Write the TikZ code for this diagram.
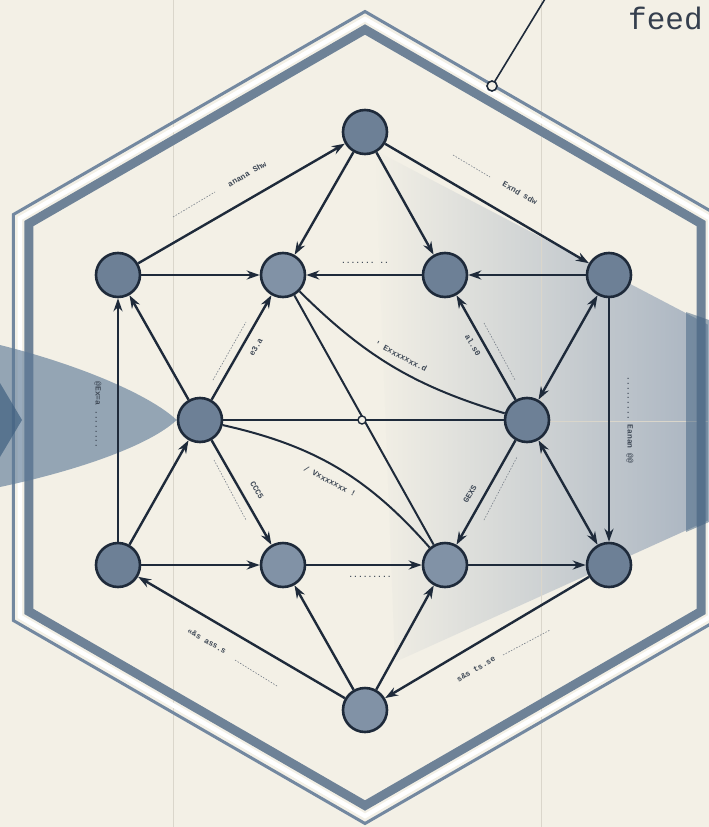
\documentclass[tikz,border=0pt]{standalone}
\usepackage{fontspec}
\setmonofont{Liberation Mono}
\usetikzlibrary{arrows.meta,calc,fadings}
\definecolor{paper}{HTML}{F3F0E6}
\definecolor{navy}{HTML}{1E2A3A}
\definecolor{nodefill}{HTML}{6D8096}
\definecolor{nodelight}{HTML}{8192A6}
\definecolor{hexline}{HTML}{7388A0}
\definecolor{hexband}{HTML}{6E8297}
\definecolor{wedge}{HTML}{5B7896}
\definecolor{wedgedark}{HTML}{3F6080}
\definecolor{shadegray}{HTML}{A9B4C1}
\definecolor{faint}{HTML}{DAD6CB}
\tikzfading[name=fadetoleft, left color=transparent!100, right color=transparent!0]
\newcommand\myhex[1]{(365,417.5-#1) -- (365-0.866*#1,417.5-0.5*#1) -- (365-0.866*#1,417.5+0.5*#1) -- (365,417.5+#1) -- (365+0.866*#1,417.5+0.5*#1) -- (365+0.866*#1,417.5-0.5*#1) -- cycle}
\tikzset{
  vtx/.style={circle, minimum size=44pt, inner sep=0pt, draw=navy, line width=2.6pt, fill=nodefill},
  vtxlight/.style={vtx, fill=nodelight},
  link/.style={draw=navy, line width=2.4pt, -{Stealth[length=13pt,width=9pt]}},
  twolink/.style={draw=navy, line width=2.4pt, {Stealth[length=13pt,width=9pt]}-{Stealth[length=13pt,width=9pt]}},
  plain/.style={draw=navy, line width=2pt},
  lbl/.style={font=\fontsize{8}{8}\selectfont\ttfamily\bfseries, text=navy!85, inner sep=0.5pt},
  dots/.style={draw=navy!60, line width=0.6pt, dash pattern=on 1.5pt off 1.5pt},
}
\begin{document}
\begin{tikzpicture}[x=1pt,y=-1pt]
\useasboundingbox (0,0) rectangle (709,827);
\clip (0,0) rectangle (709,827);
\fill[paper] (0,0) rectangle (709,827);
% right light fan
\fill[shadegray, path fading=fadetoleft] (375,150) -- (709,325) -- (709,520) -- (395,662) -- cycle;
% faint guide lines
\draw[faint, line width=1pt] (173,0) -- (173,827);
\draw[faint, line width=1pt] (541,0) -- (541,827);
\draw[faint, line width=0.8pt] (540,421) -- (709,421);
% hexagon frame
\draw[hexline, line width=3pt, line join=miter] \myhex{406};
\draw[white, line width=4.5pt, line join=miter] \myhex{398.5};
\draw[hexband, line width=9pt, line join=miter] \myhex{388};
% right dark strip
\fill[wedgedark, opacity=0.5] (686,312) -- (709,320) -- (709,522) -- (686,532) -- cycle;
% nodes
\node[vtx] (T) at (365,132) {};
\node[vtx] (UL) at (118,275) {};
\node[vtxlight] (UM1) at (283,275) {};
\node[vtx] (UM2) at (445,275) {};
\node[vtx] (UR) at (609,275) {};
\node[vtx] (ML) at (200,420) {};
\node[vtx] (MR) at (527,420) {};
\node[vtx] (LL) at (118,565) {};
\node[vtxlight] (LM1) at (283,565) {};
\node[vtxlight] (LM2) at (445,565) {};
\node[vtx] (LR) at (609,565) {};
\node[vtxlight] (B) at (365,710) {};
% left wedge
\fill[wedge, opacity=0.62] (0,345) .. controls (80,365) and (150,395) .. (ML.west) .. controls (150,445) and (80,470) .. (0,487) -- cycle;
\fill[wedgedark, opacity=0.7] (0,383) -- (22,420) -- (0,457) -- cycle;
% straight edges
\draw[link] (UL) -- (T);
\draw[link] (T) -- (UM1);
\draw[link] (T) -- (UM2);
\draw[link] (T) -- (UR);
\draw[link] (UL) -- (UM1);
\draw[link] (UM2) -- (UM1);
\draw[link] (UR) -- (UM2);
\draw[link] (UR) -- (LR);
\draw[link] (ML) -- (UL);
\draw[link] (ML) -- (UM1);
\draw[link] (MR) -- (UM2);
\draw[twolink] (MR) -- (UR);
\draw[link] (LL) -- (UL);
\draw[link] (LL) -- (ML);
\draw[link] (ML) -- (LM1);
\draw[link] (LL) -- (LM1);
\draw[link] (LM1) -- (LM2);
\draw[link] (LM2) -- (LR);
\draw[link] (MR) -- (LM2);
\draw[twolink] (MR) -- (LR);
\draw[link] (LR) -- (B);
\draw[link] (B) -- (LL);
\draw[link] (B) -- (LM1);
\draw[link] (B) -- (LM2);
% plain connections
\draw[plain] (ML) -- (MR);
\draw[plain] (UM1) -- (LM2);
\draw[plain] (UM1) to[bend right=14] (MR);
\draw[plain] (ML) to[bend left=18] (LM2);
\coordinate (X) at (362,420);
\draw[navy, line width=1.4pt, fill=paper] (X) circle (4pt);
% annotation
\coordinate (A) at (492,86);
\coordinate (Atop) at (548,-6);
\draw[navy, line width=1.6pt] (A) -- (Atop);
\draw[navy, line width=1.6pt, fill=paper] (A) circle (5pt);
\node[anchor=base west, font=\fontsize{31}{31}\selectfont\ttfamily, text=navy!90, inner sep=0pt] (feed) at (628,29) {feed};
% edge labels (small print)
\draw[dots] (173,217) -- (215,192);
\node[lbl, rotate=30] (l1) at (247,174) {anana Shw};
\draw[dots] (453,155) -- (490,177);
\node[lbl, rotate=-30] (l2) at (520,193) {Exnd sdw};
\node[lbl] (l3) at (365,263) {....... ..};
\node[lbl, rotate=-90] (l4) at (630,420) {......... Eanan @@};
\node[lbl, rotate=-90] (l5) at (98,415) {@Ex=a ........};
\node[lbl, rotate=60] (l6) at (256,347) {e3.a};
\draw[dots] (213,380) -- (246,322);
\node[lbl, rotate=-60] (l7) at (473,345) {al.s0};
\draw[dots] (484,323) -- (515,380);
\node[lbl, rotate=-28] (l8) at (401,356) {' Exxxxxxx.d};
\node[lbl, rotate=-28] (l9) at (330,481) {/ Vxxxxxxx !};
\node[lbl, rotate=-60] (l10) at (257,490) {CCC5};
\draw[dots] (214,460) -- (246,520);
\node[lbl] (l11) at (370,577) {.........};
\node[lbl, rotate=60] (l12) at (470,494) {GEXS};
\draw[dots] (484,520) -- (517,457);
\node[lbl, rotate=-30] (l13) at (207,641) {«\&s ass.s};
\draw[dots] (235,660) -- (277,686);
\node[lbl, rotate=30] (l14) at (476,669) {s\&s ts.se};
\draw[dots] (503,655) -- (550,630);
\end{tikzpicture}
\end{document}
